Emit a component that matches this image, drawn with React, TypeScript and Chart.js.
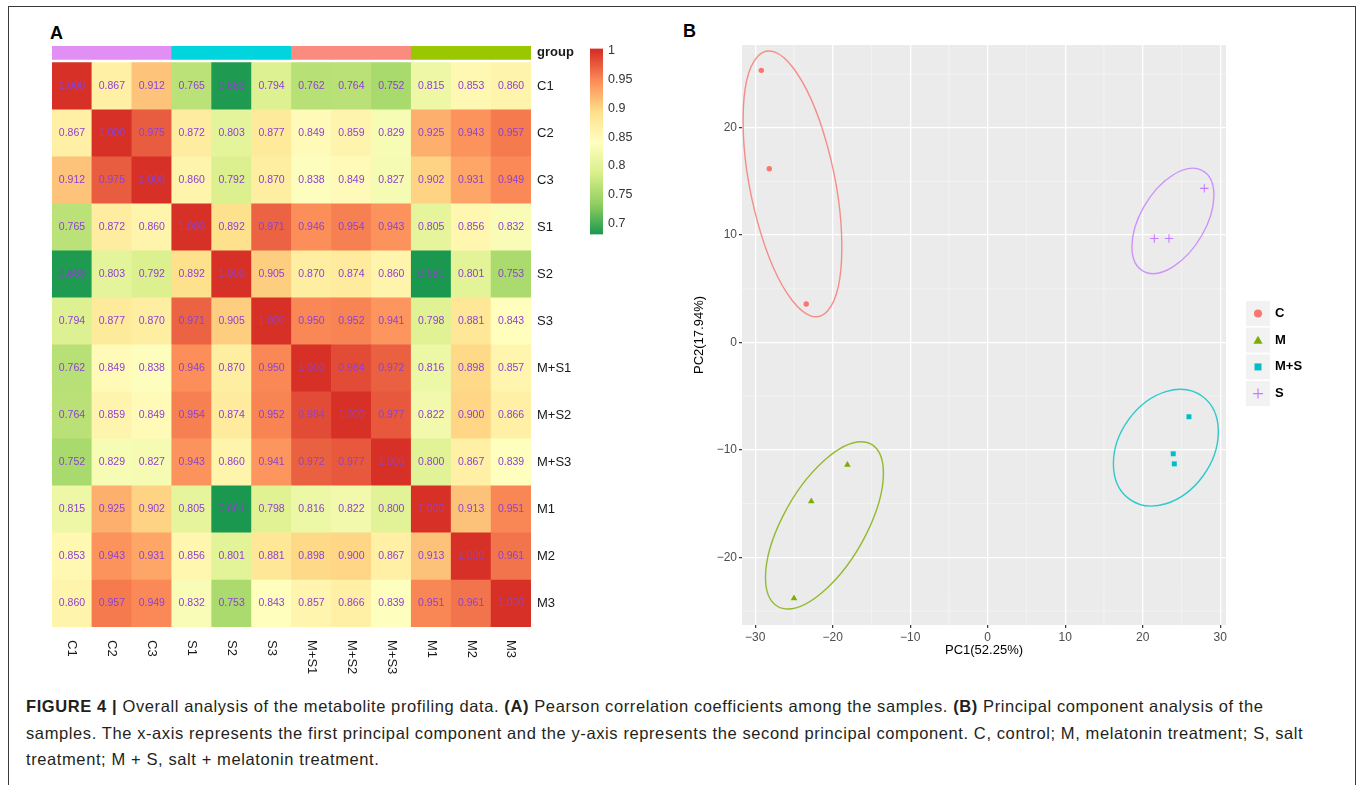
import React, { useEffect, useRef } from 'react';
import { Chart, registerables } from 'chart.js';

Chart.register(...registerables);

const FONT = '"Liberation Sans", Arial, Helvetica, sans-serif';
Chart.defaults.font.family = FONT;

// ---------- Panel A: correlation heatmap ----------
const sampleLabels = ['C1', 'C2', 'C3', 'S1', 'S2', 'S3', 'M+S1', 'M+S2', 'M+S3', 'M1', 'M2', 'M3'];
const corrC1 = [1.0, 0.867, 0.912, 0.765, 0.683, 0.794, 0.762, 0.764, 0.752, 0.815, 0.853, 0.86];
const corrC2 = [0.867, 1.0, 0.975, 0.872, 0.803, 0.877, 0.849, 0.859, 0.829, 0.925, 0.943, 0.957];
const corrC3 = [0.912, 0.975, 1.0, 0.86, 0.792, 0.87, 0.838, 0.849, 0.827, 0.902, 0.931, 0.949];
const corrS1 = [0.765, 0.872, 0.86, 1.0, 0.892, 0.971, 0.946, 0.954, 0.943, 0.805, 0.856, 0.832];
const corrS2 = [0.683, 0.803, 0.792, 0.892, 1.0, 0.905, 0.87, 0.874, 0.86, 0.681, 0.801, 0.753];
const corrS3 = [0.794, 0.877, 0.87, 0.971, 0.905, 1.0, 0.95, 0.952, 0.941, 0.798, 0.881, 0.843];
const corrMS1 = [0.762, 0.849, 0.838, 0.946, 0.87, 0.95, 1.0, 0.984, 0.972, 0.816, 0.898, 0.857];
const corrMS2 = [0.764, 0.859, 0.849, 0.954, 0.874, 0.952, 0.984, 1.0, 0.977, 0.822, 0.9, 0.866];
const corrMS3 = [0.752, 0.829, 0.827, 0.943, 0.86, 0.941, 0.972, 0.977, 1.0, 0.8, 0.867, 0.839];
const corrM1 = [0.815, 0.925, 0.902, 0.805, 0.681, 0.798, 0.816, 0.822, 0.8, 1.0, 0.913, 0.951];
const corrM2 = [0.853, 0.943, 0.931, 0.856, 0.801, 0.881, 0.898, 0.9, 0.867, 0.913, 1.0, 0.961];
const corrM3 = [0.86, 0.957, 0.949, 0.832, 0.753, 0.843, 0.857, 0.866, 0.839, 0.951, 0.961, 1.0];
const corrRows = [corrC1, corrC2, corrC3, corrS1, corrS2, corrS3, corrMS1, corrMS2, corrMS3, corrM1, corrM2, corrM3];

const groupBarColors = ['#E18EF5', '#E18EF5', '#E18EF5', '#00D5DD', '#00D5DD', '#00D5DD', '#F98B7F', '#F98B7F', '#F98B7F', '#99C800', '#99C800', '#99C800'];
const paletteColors = ['#1A9850', '#91CF60', '#D9EF8B', '#FFFFBF', '#FEE08B', '#FC8D59', '#D73027'];
const paletteMin = 0.681;
const paletteMax = 1.0;
const colorbarTicks = [0.7, 0.75, 0.8, 0.85, 0.9, 0.95, 1];

const GAP = 0.072;
const BAR = 0.283;

function hexToRgb(h: string) {
  const n = parseInt(h.slice(1), 16);
  return [(n >> 16) & 255, (n >> 8) & 255, n & 255];
}
function valueToColor(v: number) {
  const t = Math.min(1, Math.max(0, (v - paletteMin) / (paletteMax - paletteMin)));
  const pos = t * (paletteColors.length - 1);
  const i = Math.min(paletteColors.length - 2, Math.floor(pos));
  const f = pos - i;
  const a = hexToRgb(paletteColors[i]);
  const b = hexToRgb(paletteColors[i + 1]);
  const c = a.map((x, k) => Math.round(x + (b[k] - x) * f));
  return `rgb(${c[0]},${c[1]},${c[2]})`;
}

// ---------- Panel B: PCA ----------
const groupNames = ['C', 'M', 'M+S', 'S'];
const groupColors = ['#F8766D', '#7CAE00', '#00BFC4', '#C77CFF'];
const pc1C = [-29.21, -28.18, -23.41];
const pc2C = [25.34, 16.19, 3.59];
const pc1M = [-24.99, -22.76, -18.1];
const pc2M = [-23.81, -14.78, -11.39];
const pc1MS = [25.97, 23.94, 24.08];
const pc2MS = [-6.91, -10.36, -11.3];
const pc1S = [21.5, 23.39, 27.95];
const pc2S = [9.68, 9.68, 14.35];
// ellipse: [centre x, centre y, half width, half height, x offset of top point]
const ellipseC = [-25.19, 14.77, 6.37, 12.37, -3.03];
const ellipseM = [-21.06, -17.02, 7.61, 7.78, 4.77];
const ellipseMS = [22.99, -9.79, 6.77, 5.43, 1.86];
const ellipseS = [23.9, 11.32, 5.29, 4.9, 2.58];
const pc1Ticks = [-30, -20, -10, 0, 10, 20, 30];
const pc2Ticks = [-20, -10, 0, 10, 20];
const pc1MinorTicks = [-25, -15, -5, 5, 15, 25];
const pc2MinorTicks = [-25, -15, -5, 5, 15, 25];

const fmtMinus = (v: number) => (v < 0 ? '\u2212' + Math.abs(v) : String(v));

function HeatmapChart() {
  const ref = useRef<HTMLCanvasElement>(null);
  useEffect(() => {
    const n = sampleLabels.length;
    const datasets: any[] = [];
    for (let k = n - 1; k >= 0; k--) {
      datasets.push({
        label: sampleLabels[k],
        data: sampleLabels.map(() => 1),
        backgroundColor: corrRows[k].map((v) => valueToColor(v)),
        borderWidth: 0,
        barPercentage: 1,
        categoryPercentage: 1,
        stack: 's',
      });
    }
    datasets.push({ label: 'gap', data: sampleLabels.map(() => GAP), backgroundColor: 'rgba(0,0,0,0)', borderWidth: 0, barPercentage: 1, categoryPercentage: 1, stack: 's', inflateAmount: 0 });
    datasets.push({ label: 'group', data: sampleLabels.map(() => BAR), backgroundColor: groupBarColors, borderWidth: 0, barPercentage: 1, categoryPercentage: 1, stack: 's' });

    const tickVals = sampleLabels.map((_, i) => i + 0.5).concat([n + GAP + BAR / 2]);
    const tickLabels = sampleLabels.slice().reverse().concat(['group']);

    const cellText = {
      id: 'cellText',
      afterDatasetsDraw(chart: any) {
        const { ctx } = chart;
        const xs = chart.scales.x;
        const ys = chart.scales.y;
        ctx.save();
        ctx.font = `10.5px ${FONT}`;
        ctx.fillStyle = '#8E42CF';
        ctx.textAlign = 'center';
        ctx.textBaseline = 'middle';
        corrRows.forEach((row, r) => {
          row.forEach((v, c) => {
            ctx.fillText(v.toFixed(3), xs.getPixelForValue(c), ys.getPixelForValue(n - 1 - r + 0.5));
          });
        });
        ctx.restore();
      },
      afterDraw(chart: any) {
        const { ctx, chartArea } = chart;
        const xs = chart.scales.x;
        ctx.save();
        ctx.font = `13px ${FONT}`;
        ctx.fillStyle = '#1A1A1A';
        ctx.textAlign = 'left';
        ctx.textBaseline = 'middle';
        sampleLabels.forEach((lab, c) => {
          ctx.save();
          ctx.translate(xs.getPixelForValue(c), chartArea.bottom + 13);
          ctx.rotate(Math.PI / 2);
          ctx.fillText(lab, 0, 0);
          ctx.restore();
        });
        ctx.restore();
      },
    };

    const chart = new Chart(ref.current!, {
      type: 'bar',
      data: { labels: sampleLabels, datasets },
      options: {
        animation: false,
        responsive: false,
        events: [],
        layout: { padding: { left: 42, top: 26, right: 0, bottom: 60 } },
        plugins: { legend: { display: false }, tooltip: { enabled: false } },
        scales: {
          x: { type: 'category', stacked: true, display: false, offset: true },
          y: {
            type: 'linear',
            stacked: true,
            position: 'right',
            min: 0,
            max: n + GAP + BAR,
            grid: { display: false, drawTicks: false },
            border: { display: false },
            afterBuildTicks: (s: any) => {
              s.ticks = tickVals.map((v) => ({ value: v }));
            },
            afterFit: (s: any) => {
              s.width = 50;
            },
            ticks: {
              autoSkip: false,
              padding: 6,
              color: '#1A1A1A',
              callback: (_v: any, i: number) => tickLabels[i],
              font: (c: any) => (c.index === n ? { size: 13, weight: 'bold', family: FONT } : { size: 13, family: FONT }),
            },
          },
        },
      },
      plugins: [cellText],
    } as any);
    return () => chart.destroy();
  }, []);
  return <canvas ref={ref} width={571} height={667} style={{ position: 'absolute', left: 10, top: 20, width: 571, height: 667 }} />;
}

function ColorbarChart() {
  const ref = useRef<HTMLCanvasElement>(null);
  useEffect(() => {
    const chart = new Chart(ref.current!, {
      type: 'bar',
      data: {
        labels: [''],
        datasets: [
          {
            data: [[paletteMin, 1.004]],
            barPercentage: 1,
            categoryPercentage: 1,
            borderWidth: 0,
            backgroundColor: (c: any) => {
              const ch = c.chart;
              if (!ch.chartArea) return 'transparent';
              const ys = ch.scales.y;
              const g = ch.ctx.createLinearGradient(0, ys.getPixelForValue(paletteMin), 0, ys.getPixelForValue(paletteMax));
              paletteColors.forEach((col, i) => g.addColorStop(i / (paletteColors.length - 1), col));
              return g;
            },
          },
        ],
      },
      options: {
        animation: false,
        responsive: false,
        events: [],
        layout: { padding: { left: 5, top: 8, bottom: 8, right: 0 } },
        plugins: { legend: { display: false }, tooltip: { enabled: false } },
        scales: {
          x: { display: false },
          y: {
            position: 'right',
            min: paletteMin,
            max: 1.004,
            grid: { display: false, drawTicks: false },
            border: { display: false },
            afterBuildTicks: (s: any) => {
              s.ticks = colorbarTicks.map((v) => ({ value: v }));
            },
            afterFit: (s: any) => {
              s.width = 52;
            },
            ticks: {
              padding: 5,
              color: '#333333',
              font: { size: 12.5 },
              callback: (v: any) => String(Number(Number(v).toFixed(2))),
            },
          },
        },
      },
    } as any);
    return () => chart.destroy();
  }, []);
  return <canvas ref={ref} width={70} height={211} style={{ position: 'absolute', left: 585, top: 36, width: 70, height: 211 }} />;
}

function PcaChart() {
  const ref = useRef<HTMLCanvasElement>(null);
  useEffect(() => {
    const xsList = [pc1C, pc1M, pc1MS, pc1S];
    const ysList = [pc2C, pc2M, pc2MS, pc2S];
    const styles = ['circle', 'triangle', 'rect', 'cross'];
    const radii = [2.7, 3.8, 3.5, 4.2];
    const ellipses = [ellipseC, ellipseM, ellipseMS, ellipseS];

    const datasets = groupNames.map((g, i) => ({
      label: g,
      data: xsList[i].map((x, k) => ({ x, y: ysList[i][k] })),
      pointStyle: styles[i],
      pointRadius: radii[i],
      backgroundColor: groupColors[i],
      borderColor: groupColors[i],
      borderWidth: i === 3 ? 1.1 : 0,
    }));

    const panel = {
      id: 'panel',
      beforeDraw(chart: any) {
        const { ctx, chartArea: a } = chart;
        const xs = chart.scales.x;
        const ys = chart.scales.y;
        ctx.save();
        ctx.fillStyle = '#EBEBEB';
        ctx.fillRect(a.left, a.top, a.right - a.left, a.bottom - a.top);
        ctx.strokeStyle = 'rgba(255,255,255,0.65)';
        ctx.lineWidth = 0.6;
        pc1MinorTicks.forEach((v) => {
          const x = xs.getPixelForValue(v);
          ctx.beginPath();
          ctx.moveTo(x, a.top);
          ctx.lineTo(x, a.bottom);
          ctx.stroke();
        });
        pc2MinorTicks.forEach((v) => {
          const y = ys.getPixelForValue(v);
          if (y < a.top || y > a.bottom) return;
          ctx.beginPath();
          ctx.moveTo(a.left, y);
          ctx.lineTo(a.right, y);
          ctx.stroke();
        });
        ctx.restore();
      },
      beforeDatasetsDraw(chart: any) {
        const { ctx } = chart;
        const xs = chart.scales.x;
        const ys = chart.scales.y;
        const sx = xs.getPixelForValue(1) - xs.getPixelForValue(0);
        const sy = ys.getPixelForValue(1) - ys.getPixelForValue(0);
        ellipses.forEach((e, i) => {
          const [cx, cy, hx, hy, topDx] = e;
          const sxy = topDx * hy;
          const uy = sxy / hx;
          const vy = Math.sqrt(Math.max(0, hy * hy - uy * uy));
          ctx.save();
          ctx.beginPath();
          ctx.translate(xs.getPixelForValue(cx), ys.getPixelForValue(cy));
          ctx.transform(hx * sx, uy * sy, 0, vy * sy, 0, 0);
          ctx.arc(0, 0, 1, 0, Math.PI * 2);
          ctx.restore();
          ctx.save();
          ctx.strokeStyle = groupColors[i];
          ctx.globalAlpha = 0.8;
          ctx.lineWidth = 1.4;
          ctx.stroke();
          ctx.restore();
        });
      },
      afterDraw(chart: any) {
        const { ctx, chartArea: a } = chart;
        const x0 = a.right + 20;
        const top0 = a.top + 256;
        const pitch = 26.7;
        ctx.save();
        groupNames.forEach((g, i) => {
          const ky = top0 + i * pitch;
          ctx.fillStyle = '#F2F2F2';
          ctx.fillRect(x0, ky, 24, 25);
          const cx = x0 + 12;
          const cy = ky + 12.5;
          ctx.fillStyle = groupColors[i];
          ctx.strokeStyle = groupColors[i];
          ctx.beginPath();
          if (i === 0) {
            ctx.arc(cx, cy, 4, 0, Math.PI * 2);
            ctx.fill();
          } else if (i === 1) {
            ctx.moveTo(cx, cy - 4.5);
            ctx.lineTo(cx + 4.6, cy + 3.5);
            ctx.lineTo(cx - 4.6, cy + 3.5);
            ctx.closePath();
            ctx.fill();
          } else if (i === 2) {
            ctx.fillRect(cx - 3.5, cy - 3.5, 7, 7);
          } else {
            ctx.lineWidth = 1.2;
            ctx.moveTo(cx - 5, cy);
            ctx.lineTo(cx + 5, cy);
            ctx.moveTo(cx, cy - 5);
            ctx.lineTo(cx, cy + 5);
            ctx.stroke();
          }
          ctx.fillStyle = '#000';
          ctx.font = `bold 13px ${FONT}`;
          ctx.textAlign = 'left';
          ctx.textBaseline = 'middle';
          ctx.fillText(g, x0 + 29, cy);
        });
        ctx.restore();
      },
    };

    const chart = new Chart(ref.current!, {
      type: 'scatter',
      data: { datasets },
      options: {
        animation: false,
        responsive: false,
        events: [],
        layout: { padding: { left: 0, top: 25, right: 131, bottom: 0 } },
        plugins: { legend: { display: false }, tooltip: { enabled: false } },
        scales: {
          x: {
            type: 'linear',
            min: -31.7,
            max: 30.75,
            afterBuildTicks: (s: any) => {
              s.ticks = pc1Ticks.map((v) => ({ value: v }));
            },
            afterFit: (s: any) => {
              s.height = 33;
            },
            grid: { color: '#FFFFFF', lineWidth: 1.3, tickColor: '#333333', tickLength: 3, tickWidth: 1.2 },
            border: { display: false },
            ticks: { color: '#4D4D4D', font: { size: 12 }, padding: 2, callback: (v: any) => fmtMinus(Number(v)) },
            title: { display: true, text: 'PC1(52.25%)', color: '#000', font: { size: 13 }, padding: { top: 0, bottom: 0 } },
          },
          y: {
            type: 'linear',
            min: -26.3,
            max: 27.7,
            afterBuildTicks: (s: any) => {
              s.ticks = pc2Ticks.map((v) => ({ value: v }));
            },
            afterFit: (s: any) => {
              s.width = 52;
            },
            grid: { color: '#FFFFFF', lineWidth: 1.3, tickColor: '#333333', tickLength: 3, tickWidth: 1.2 },
            border: { display: false },
            ticks: { color: '#4D4D4D', font: { size: 12 }, padding: 2, callback: (v: any) => fmtMinus(Number(v)) },
            title: { display: true, text: 'PC2(17.94%)', color: '#000', font: { size: 13 }, padding: { top: 2, bottom: 0 } },
          },
        },
      },
      plugins: [panel],
    } as any);
    return () => chart.destroy();
  }, []);
  return <canvas ref={ref} width={667} height={638} style={{ position: 'absolute', left: 690, top: 20, width: 667, height: 638 }} />;
}

export default function App() {
  return (
    <div style={{ position: 'absolute', left: 0, top: 0, width: 1357, height: 785, background: '#fff', overflow: 'hidden', fontFamily: FONT }}>
      <div style={{ position: 'absolute', left: 8, top: 6, width: 1348, height: 820, border: '1px solid #3a3a3a', boxSizing: 'border-box' }} />
      <div style={{ position: 'absolute', left: 50, top: 23, fontSize: 18, fontWeight: 'bold', color: '#000' }}>A</div>
      <div style={{ position: 'absolute', left: 683, top: 21, fontSize: 18, fontWeight: 'bold', color: '#000' }}>B</div>
      <HeatmapChart />
      <ColorbarChart />
      <PcaChart />
      <div style={{ position: 'absolute', left: 26, top: 693, fontSize: 16.5, letterSpacing: '0.6px', lineHeight: '26.5px', color: '#231F20', whiteSpace: 'nowrap' }}>
        <b>FIGURE 4 |</b> Overall analysis of the metabolite profiling data. <b>(A)</b> Pearson correlation coefficients among the samples. <b>(B)</b> Principal component analysis of the
        <br />
        samples. The x-axis represents the first principal component and the y-axis represents the second principal component. C, control; M, melatonin treatment; S, salt
        <br />
        treatment; M + S, salt + melatonin treatment.
      </div>
    </div>
  );
}
